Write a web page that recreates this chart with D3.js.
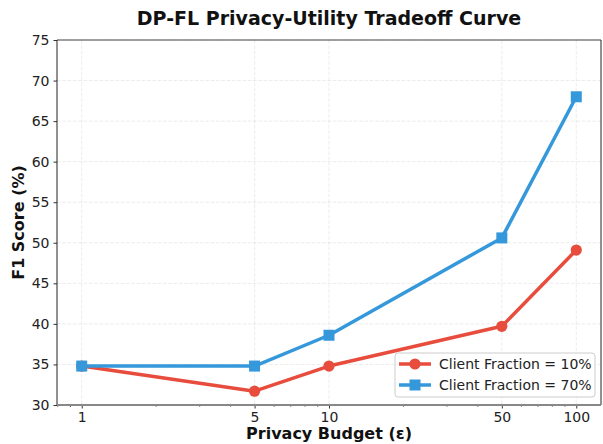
<!DOCTYPE html>
<html>
<head>
<meta charset="utf-8">
<script src="https://cdn.jsdelivr.net/npm/d3@7"></script>
<style>
    body { margin: 0; background: #fff; }
    svg { font-family: "DejaVu Sans", sans-serif; display: block; }
</style>
</head>
<body>
<svg id="chart"></svg>
<script>
// chart data
var budgets = [1, 5, 10, 50, 100];
var fraction10 = [34.8, 31.7, 34.8, 39.7, 49.1];
var fraction70 = [34.8, 34.8, 38.6, 50.6, 68.0];
var seriesNames = ["Client Fraction = 10%", "Client Fraction = 70%"];
var xTicks = [1, 5, 10, 50, 100];
var yTicks = [30, 35, 40, 45, 50, 55, 60, 65, 70, 75];

var width = 603, height = 444;
var margin = { top: 40, right: 2, bottom: 39, left: 57 };
var innerW = width - margin.left - margin.right;
var innerH = height - margin.top - margin.bottom;

var colors = ["#e74c3c", "#3498db"];

var svg = d3.select("#chart").attr("width", width).attr("height", height);

var xScale = d3.scaleLog()
    .domain([Math.pow(10, -0.1), Math.pow(10, 2.1)])
    .range([0, innerW]);
var yScale = d3.scaleLinear()
    .domain([30, 75])
    .range([innerH, 0]);

var g = svg.append("g").attr("transform", "translate(" + margin.left + "," + margin.top + ")");

// grid lines
g.append("g").selectAll("line")
    .data(xTicks).enter().append("line")
    .attr("x1", function (d) { return xScale(d); })
    .attr("x2", function (d) { return xScale(d); })
    .attr("y1", 0).attr("y2", innerH)
    .attr("stroke", "#b0b0b0").attr("stroke-opacity", 0.3)
    .attr("stroke-dasharray", "3.7,1.6").attr("stroke-width", 0.8);
g.append("g").selectAll("line")
    .data(yTicks).enter().append("line")
    .attr("y1", function (d) { return yScale(d); })
    .attr("y2", function (d) { return yScale(d); })
    .attr("x1", 0).attr("x2", innerW)
    .attr("stroke", "#b0b0b0").attr("stroke-opacity", 0.3)
    .attr("stroke-dasharray", "3.7,1.6").attr("stroke-width", 0.8);

// minor ticks on the log axis
var minorTicks = xScale.ticks().filter(function (d) { return xTicks.indexOf(d) < 0; });
minorTicks.push(0.9);
g.append("g").selectAll("line")
    .data(minorTicks).enter().append("line")
    .attr("x1", function (d) { return xScale(d); })
    .attr("x2", function (d) { return xScale(d); })
    .attr("y1", innerH).attr("y2", innerH + 2)
    .attr("stroke", "#333").attr("stroke-width", 0.6);

// axes
var axisBottom = d3.axisBottom(xScale).tickValues(xTicks).tickFormat(d3.format("d")).tickSize(3.5).tickPadding(4);
var gx = g.append("g").attr("transform", "translate(0," + innerH + ")").call(axisBottom);
gx.select(".domain").remove();
gx.selectAll("text").attr("font-size", "14px").attr("fill", "#222").attr("font-family", "DejaVu Sans");
gx.selectAll("line").attr("stroke", "#333");

var axisLeft = d3.axisLeft(yScale).tickValues(yTicks).tickSize(3.5).tickPadding(4);
var gy = g.append("g").call(axisLeft);
gy.select(".domain").remove();
gy.selectAll("text").attr("font-size", "14px").attr("fill", "#222").attr("font-family", "DejaVu Sans");
gy.selectAll("line").attr("stroke", "#333");

// spines
g.append("line").attr("x1", 0).attr("x2", innerW).attr("y1", 0).attr("y2", 0).attr("stroke", "#444").attr("stroke-width", 1);
g.append("line").attr("x1", innerW).attr("x2", innerW).attr("y1", 0).attr("y2", innerH).attr("stroke", "#222").attr("stroke-width", 1);
g.append("line").attr("x1", 0).attr("x2", 0).attr("y1", 0).attr("y2", innerH).attr("stroke", "#222").attr("stroke-width", 1);
g.append("line").attr("x1", 0).attr("x2", innerW).attr("y1", innerH).attr("y2", innerH).attr("stroke", "#888").attr("stroke-width", 2);

// lines and markers
var series = [fraction10, fraction70];
var line = d3.line()
    .x(function (d, i) { return xScale(budgets[i]); })
    .y(function (d) { return yScale(d); });

series.forEach(function (values, s) {
    g.append("path")
        .datum(values)
        .attr("d", line)
        .attr("fill", "none")
        .attr("stroke", colors[s])
        .attr("stroke-width", 3.5)
        .attr("stroke-linejoin", "round")
        .attr("stroke-linecap", "round");
});

g.selectAll(".dot10")
    .data(fraction10).enter().append("circle")
    .attr("cx", function (d, i) { return xScale(budgets[i]); })
    .attr("cy", function (d) { return yScale(d); })
    .attr("r", 5.6)
    .attr("fill", colors[0]);

g.selectAll(".sq70")
    .data(fraction70).enter().append("rect")
    .attr("x", function (d, i) { return xScale(budgets[i]) - 5.5; })
    .attr("y", function (d) { return yScale(d) - 5.5; })
    .attr("width", 11).attr("height", 11)
    .attr("fill", colors[1]);

// legend
var legend = svg.append("g").attr("transform", "translate(395,353)");
legend.append("rect")
    .attr("width", 200).attr("height", 44).attr("rx", 3)
    .attr("fill", "#fff").attr("fill-opacity", 0.8)
    .attr("stroke", "#ccc").attr("stroke-width", 1);
seriesNames.forEach(function (name, i) {
    var ly = 11 + i * 21;
    legend.append("line")
        .attr("x1", 4).attr("x2", 36).attr("y1", ly).attr("y2", ly)
        .attr("stroke", colors[i]).attr("stroke-width", 3.5);
    if (i === 0) {
        legend.append("circle").attr("cx", 20).attr("cy", ly).attr("r", 5.6).attr("fill", colors[i]);
    } else {
        legend.append("rect").attr("x", 14.5).attr("y", ly - 5.5).attr("width", 11).attr("height", 11).attr("fill", colors[i]);
    }
    legend.append("text")
        .text(name)
        .attr("x", 44).attr("y", ly + 5)
        .attr("font-size", "14px").attr("fill", "#222");
});

// title and labels
svg.append("text")
    .text("DP-FL Privacy-Utility Tradeoff Curve")
    .attr("x", margin.left + innerW / 2).attr("y", 25)
    .attr("text-anchor", "middle")
    .attr("font-size", "19px").attr("font-weight", "bold").attr("fill", "#111");

svg.append("text")
    .text("Privacy Budget (ε)")
    .attr("x", margin.left + innerW / 2).attr("y", 439)
    .attr("text-anchor", "middle")
    .attr("font-size", "16px").attr("font-weight", "bold").attr("fill", "#111");

svg.append("text")
    .text("F1 Score (%)")
    .attr("transform", "translate(24," + (margin.top + innerH / 2) + ") rotate(-90)")
    .attr("text-anchor", "middle")
    .attr("font-size", "16px").attr("font-weight", "bold").attr("fill", "#111");
</script>
</body>
</html>
